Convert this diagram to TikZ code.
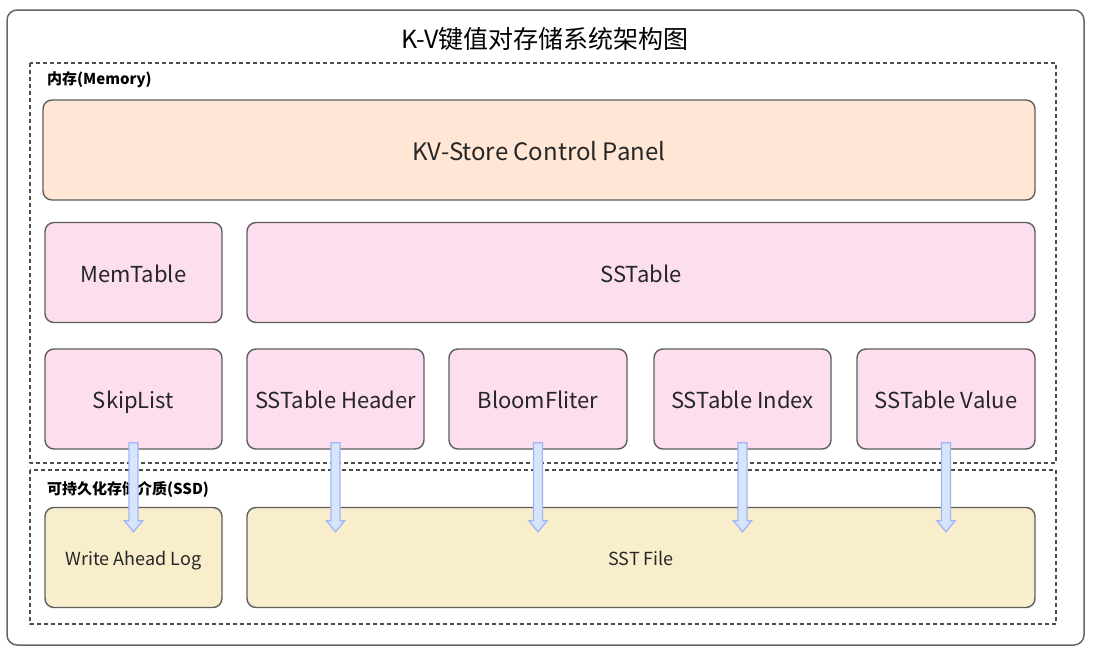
\documentclass[tikz,border=0pt]{standalone}
\usepackage{fontspec}
\setmainfont{Noto Sans CJK SC}
\usetikzlibrary{calc}
\definecolor{peach}{HTML}{FFE6D5}
\definecolor{pinkbox}{HTML}{FCDEEE}
\definecolor{sandbox}{HTML}{F9EECC}
\definecolor{edgegray}{HTML}{5E5E5E}
\definecolor{arrowfill}{HTML}{D6E4FC}
\definecolor{arrowedge}{HTML}{A2B6F6}
\newcommand\flushdown[2]{% block arrow from #1 down to #2
  \draw[flush arrow] let \p1=(#1), \p2=(#2) in
    (\x1-4.5pt,\y1) -- (\x1+4.5pt,\y1) -- (\x1+4.5pt,\y2+11pt) -- (\x1+9pt,\y2+11pt)
    -- (\x1,\y2) -- (\x1-9pt,\y2+11pt) -- (\x1-4.5pt,\y2+11pt) -- cycle;
}
\begin{document}
\begin{tikzpicture}[line join=round, x=1pt, y=-1pt]
    \tikzset{
        unit box/.style={draw=edgegray, line width=1.4pt, rounded corners=9pt, inner sep=0pt,
            minimum height=100pt, text=black!85},
        mem box/.style={unit box, fill=pinkbox, font=\fontsize{22}{26}\selectfont,
            text height=22pt, text depth=2.2pt},
        disk box/.style={unit box, fill=sandbox, font=\fontsize{18}{21}\selectfont,
            text height=18pt, text depth=1.8pt},
        layer/.style={draw=black!70, line width=1.3pt, dash pattern=on 4pt off 3pt},
        layer label/.style={anchor=west, inner sep=0pt, font=\bfseries\fontsize{15}{18}\selectfont},
        flush arrow/.style={draw=arrowedge, fill=arrowfill, line width=1.3pt, line join=miter},
    }
    \useasboundingbox (0,0) rectangle (1095,651);
    % frame
    \draw[draw=black!60, line width=1.5pt, rounded corners=10pt] (7,10) rectangle (1084,645);
    \node (title) at (545,39) {\fontsize{25}{30}\selectfont K-V键值对存储系统架构图};
    % layers
    \draw[layer] (30,63) rectangle (1056,463);
    \draw[layer] (30,470) rectangle (1056,624);
    \node[layer label] (memlabel) at (47,80) {内存(Memory)};
    \node[layer label] (ssdlabel) at (47,489) {可持久化存储介质(SSD)};
    % memory
    \node[unit box, fill=peach, minimum width=992pt, font=\fontsize{24}{28}\selectfont,
        text height=24pt, text depth=2.4pt] (panel) at (539,150) {KV-Store Control Panel};
    \node[mem box, minimum width=177pt] (memtable) at (133.5,272.5) {MemTable};
    \node[mem box, minimum width=788pt] (sstable) at (641,272.5) {SSTable};
    \node[mem box, minimum width=177pt] (skiplist) at (133.5,399) {SkipList};
    \node[mem box, minimum width=177pt] (header) at (335.5,399) {SSTable Header};
    \node[mem box, minimum width=178pt] (bloom) at (538,399) {BloomFliter};
    \node[mem box, minimum width=177pt] (index) at (742.5,399) {SSTable Index};
    \node[mem box, minimum width=178pt] (value) at (946,399) {SSTable Value};
    % ssd
    \node[disk box, minimum width=177pt] (wal) at (133.5,557.5) {Write Ahead Log};
    \node[disk box, minimum width=788pt] (sstfile) at (641,557.5) {SST File};
    % flush
    \flushdown{$(skiplist.south)+(0,-7)$}{$(wal.north)+(0,25)$}
    \foreach \part in {header, bloom, index, value}{
        \flushdown{$(\part.south)+(0,-7)$}{$(\part.south |- sstfile.north)+(0,25)$}
    }
\end{tikzpicture}
\end{document}
